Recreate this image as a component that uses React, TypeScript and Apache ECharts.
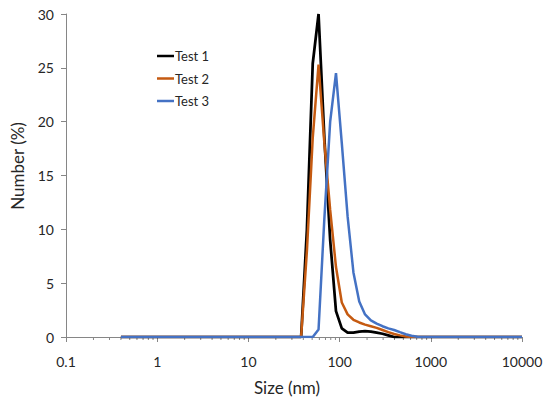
import React, { useEffect, useRef } from "react";
import * as echarts from "echarts";

// Size bins (nm)
const sizes = [
  0.4, 0.4632, 0.5365, 0.6213, 0.7195, 0.8332, 0.9649, 1.117, 1.294, 1.499,
  1.736, 2.01, 2.328, 2.696, 3.122, 3.615, 4.187, 4.849, 5.615, 6.503,
  7.531, 8.721, 10.1, 11.7, 13.54, 15.69, 18.17, 21.04, 24.36, 28.21,
  32.67, 37.84, 43.82, 50.75, 58.77, 68.06, 78.82, 91.28, 105.7, 122.4,
  141.8, 164.2, 190.1, 220.2, 255, 295.3, 342, 396.1, 458.7, 531.2,
  615.1, 712.4, 825, 955.4, 1106, 1281, 1484, 1718, 1990, 2305,
  2669, 3091, 3580, 4145, 4801, 5560, 6439, 7456, 8635, 10000,
];

const test1 = [
  0, 0, 0, 0, 0, 0, 0, 0, 0, 0,
  0, 0, 0, 0, 0, 0, 0, 0, 0, 0,
  0, 0, 0, 0, 0, 0, 0, 0, 0, 0,
  0, 0, 10, 25.4, 30, 18.5, 9, 2.4, 0.8, 0.4,
  0.4, 0.5, 0.55, 0.5, 0.4, 0.3, 0.15, 0, 0, 0,
  0, 0, 0, 0, 0, 0, 0, 0, 0, 0,
  0, 0, 0, 0, 0, 0, 0, 0, 0, 0,
];

const test2 = [
  0, 0, 0, 0, 0, 0, 0, 0, 0, 0,
  0, 0, 0, 0, 0, 0, 0, 0, 0, 0,
  0, 0, 0, 0, 0, 0, 0, 0, 0, 0,
  0, 0, 8, 18.5, 25.3, 18, 11.8, 6.5, 3.2, 2.1,
  1.6, 1.35, 1.15, 1.0, 0.85, 0.65, 0.45, 0.28, 0.15, 0.05,
  0, 0, 0, 0, 0, 0, 0, 0, 0, 0,
  0, 0, 0, 0, 0, 0, 0, 0, 0, 0,
];

const test3 = [
  0, 0, 0, 0, 0, 0, 0, 0, 0, 0,
  0, 0, 0, 0, 0, 0, 0, 0, 0, 0,
  0, 0, 0, 0, 0, 0, 0, 0, 0, 0,
  0, 0, 0, 0, 0.7, 11, 20, 24.5, 18, 11.2,
  6, 3.3, 2.1, 1.55, 1.25, 1.0, 0.8, 0.65, 0.45, 0.26,
  0.12, 0.03, 0, 0, 0, 0, 0, 0, 0, 0,
  0, 0, 0, 0, 0, 0, 0, 0, 0, 0,
];

const seriesNames = ["Test 1", "Test 2", "Test 3"];
const seriesColors = ["#000000", "#C55A11", "#4472C4"];
const decades = [0.1, 1, 10, 100, 1000];
const minorMultipliers = [2, 3, 4, 5, 6, 7, 8, 9];
const xTitle = "Size (nm)";
const yTitle = "Number (%)";

const FONT = "Lato, 'Noto Sans', sans-serif";
const TEXT = "#262626";
const AXIS = "#868686";

export default function App() {
  const ref = useRef<HTMLDivElement>(null);

  useEffect(() => {
    if (!ref.current) return;
    const chart = echarts.init(ref.current, undefined, { renderer: "svg" });

    const minorTicks: number[] = [];
    decades.forEach((d) => minorMultipliers.forEach((m) => minorTicks.push(+(d * m).toPrecision(3))));

    const allSeries = [test1, test2, test3];

    chart.setOption({
      animation: false,
      textStyle: { fontFamily: FONT },
      grid: { left: 66, right: 28, top: 14, bottom: 66, containLabel: false },
      legend: {
        orient: "vertical",
        left: 152,
        top: 43,
        icon: "rect",
        itemWidth: 17,
        itemHeight: 2.5,
        itemGap: 6.5,
        data: seriesNames,
        textStyle: { fontFamily: FONT, fontSize: 13, color: TEXT, padding: [0, 0, 0, -4], lineHeight: 16 },
      },
      graphic: [
        {
          type: "text",
          x: 287,
          y: 387,
          style: {
            text: xTitle,
            fontFamily: FONT,
            fontSize: 17,
            fill: TEXT,
            align: "center",
            verticalAlign: "middle",
          },
        },
        {
          type: "text",
          x: 17,
          y: 166,
          rotation: Math.PI / 2,
          style: {
            text: yTitle,
            fontFamily: FONT,
            fontSize: 17,
            fill: TEXT,
            align: "center",
            verticalAlign: "middle",
          },
        },
      ],
      xAxis: {
        type: "log",
        logBase: 10,
        min: 0.1,
        max: 10000,
        axisLine: { show: true, lineStyle: { color: AXIS, width: 1 } },
        axisTick: { show: true, inside: false, length: 5, lineStyle: { color: AXIS } },
        minorTick: { show: false },
        splitLine: { show: false },
        axisLabel: {
          fontFamily: FONT,
          fontSize: 14,
          color: TEXT,
          margin: 17,
          formatter: (v: number) => String(v),
        },
      },
      yAxis: {
        type: "value",
        min: 0,
        max: 30,
        interval: 5,
        axisLine: { show: true, lineStyle: { color: AXIS, width: 1 } },
        axisTick: { show: true, inside: false, length: 5, lineStyle: { color: AXIS } },
        splitLine: { show: false },
        axisLabel: { fontFamily: FONT, fontSize: 14, color: TEXT, margin: 12 },
      },
      series: [
        {
          type: "custom",
          name: "minorTicks",
          silent: true,
          clip: false,
          z: 1,
          data: minorTicks.map((v) => [v, 0]),
          renderItem: (params: any, api: any) => {
            const p = api.coord([api.value(0), 0]);
            return {
              type: "line",
              shape: { x1: p[0], y1: p[1], x2: p[0], y2: p[1] + 3 },
              style: { stroke: AXIS, lineWidth: 1 },
            };
          },
        },
        ...allSeries.map((vals, i) => ({
          type: "line",
          name: seriesNames[i],
          data: sizes.map((s, j) => [s, vals[j]]),
          showSymbol: false,
          symbol: "none",
          lineStyle: { color: seriesColors[i], width: i === 0 ? 2.75 : 2.5 },
          itemStyle: { color: seriesColors[i] },
          z: 2 + i,
        })),
      ],
    });

    return () => chart.dispose();
  }, []);

  return (
    <div
      ref={ref}
      style={{ position: "absolute", left: 0, top: 0, width: 550, height: 403, background: "#fff" }}
    />
  );
}
